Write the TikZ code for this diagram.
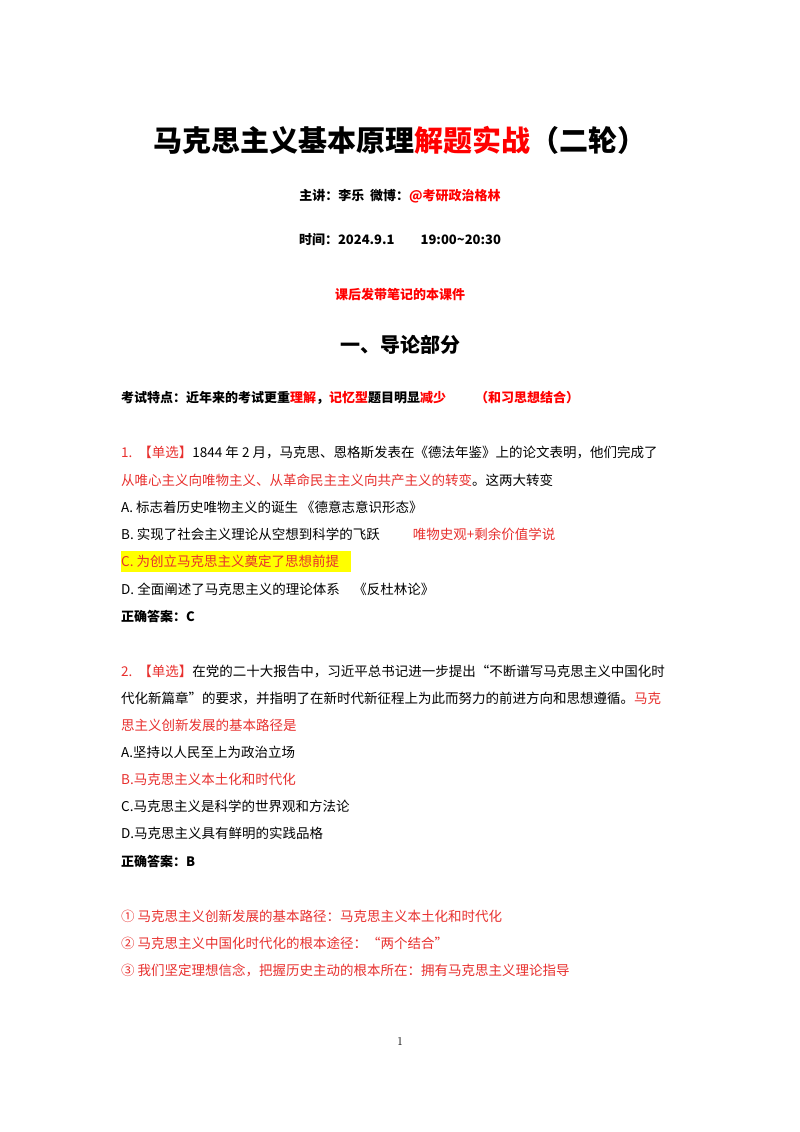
\documentclass[tikz,border=0pt]{standalone}
\usepackage{fontspec}
\newfontfamily\cjk{Noto Sans CJK SC}
\definecolor{rd}{HTML}{FF0000}
\definecolor{br}{HTML}{E8302E}
\definecolor{hl}{HTML}{FFFF00}
\begin{document}
\begin{tikzpicture}[x=1pt,y=-1pt,
 t/.style={anchor=west,inner sep=0pt,font=\cjk\fontsize{13.5}{16}\selectfont},
 c/.style={anchor=center,inner sep=0pt,font=\cjk\bfseries\fontsize{13}{16}\selectfont}]
\useasboundingbox[fill=white] (0,0) rectangle (800,1132);
\node[c,font=\cjk\bfseries\fontsize{29}{34}\selectfont] (title) at (400,140) {马克思主义基本原理\textcolor{rd}{解题实战}（二轮）};
\node[c] (lec) at (400,196) {主讲：李乐\ \ 微博：\textcolor{rd}{@考研政治格林}};
\node[c] (time) at (400,240) {时间：2024.9.1\qquad 19:00\char`~20:30};
\node[c,text=rd] (after) at (400,295) {课后发带笔记的本课件};
\node[c,font=\cjk\bfseries\fontsize{20}{24}\selectfont] (sec) at (400,345) {一、导论部分};
\node[t,font=\cjk\bfseries\fontsize{13}{16}\selectfont] (feat) at (121,398) {考试特点：近年来的考试更重\textcolor{rd}{理解}，\textcolor{rd}{记忆型}题目明显\textcolor{rd}{减少}\qquad\ \textcolor{rd}{（和习思想结合）}};
\node[t] (q1a) at (121,452) {\textcolor{br}{1.\ \ 【单选】}1844 年 2 月，马克思、恩格斯发表在《德法年鉴》上的论文表明，他们完成了};
\node[t] (q1b) at (121,480) {\textcolor{br}{从唯心主义向唯物主义、从革命民主主义向共产主义的转变}。这两大转变};
\node[t] (q1A) at (121,507) {A.\ 标志着历史唯物主义的诞生\ 《德意志意识形态》};
\node[t] (q1B) at (121,534) {B.\ 实现了社会主义理论从空想到科学的飞跃\qquad\ \ \textcolor{br}{唯物史观+剩余价值学说}};
\fill[hl] (121,551) rectangle (351,572);
\node[t,text=br] (q1C) at (121,561) {C.\ 为创立马克思主义奠定了思想前提};
\node[t] (q1D) at (121,589) {D.\ 全面阐述了马克思主义的理论体系\quad 《反杜林论》};
\node[t,font=\cjk\bfseries\fontsize{13}{16}\selectfont] (a1) at (121,616) {正确答案：C};
\node[t] (q2a) at (121,671) {\textcolor{br}{2.\ \ 【单选】}在党的二十大报告中，习近平总书记进一步提出“不断谱写马克思主义中国化时};
\node[t] (q2b) at (121,698) {代化新篇章”的要求，并指明了在新时代新征程上为此而努力的前进方向和思想遵循。\textcolor{br}{马克}};
\node[t,text=br] (q2c) at (121,725) {思主义创新发展的基本路径是};
\node[t] (q2A) at (121,752) {A.坚持以人民至上为政治立场};
\node[t,text=br] (q2B) at (121,779) {B.马克思主义本土化和时代化};
\node[t] (q2C) at (121,806) {C.马克思主义是科学的世界观和方法论};
\node[t] (q2D) at (121,833) {D.马克思主义具有鲜明的实践品格};
\node[t,font=\cjk\bfseries\fontsize{13}{16}\selectfont] (a2) at (121,861) {正确答案：B};
\node[t,text=br] (n1) at (121,916) {①\ 马克思主义创新发展的基本路径：马克思主义本土化和时代化};
\node[t,text=br] (n2) at (121,943) {②\ 马克思主义中国化时代化的根本途径：“两个结合”};
\node[t,text=br] (n3) at (121,970) {③\ 我们坚定理想信念，把握历史主动的根本所在：拥有马克思主义理论指导};
\node[inner sep=0pt,font=\fontsize{12}{14}\selectfont] (pg) at (400,1041) {1};
\end{tikzpicture}
\end{document}
